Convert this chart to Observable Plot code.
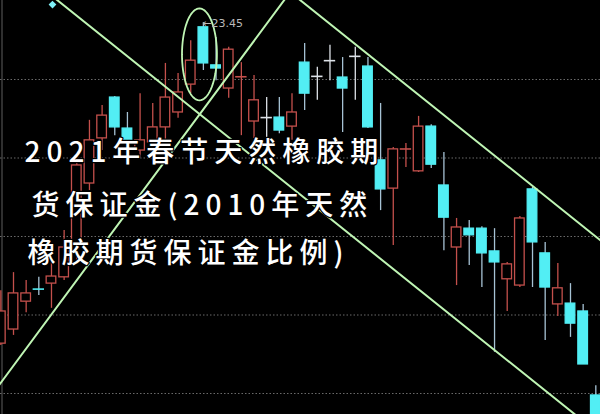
<!DOCTYPE html>
<html>
<head>
<meta charset="utf-8">
<script src="https://cdn.jsdelivr.net/npm/d3@7"></script>
<script src="https://cdn.jsdelivr.net/npm/@observablehq/plot@0.6"></script>
<style>
  html, body { margin: 0; padding: 0; background: #000; }
  #chart svg { display: block; }
</style>
</head>
<body>
<div id="chart"></div>
<script>
// Candle values (price units), one entry per trading day, left to right
const openP  = [15.27,15.63,16.34,16.66,16.80,16.96,17.77,19.35,20.50,21.54,20.75,20.19,20.40,20.78,21.16,21.87,23.33,22.36,21.77,22.07,20.93,21.03,21.03,20.80,22.43,22.08,22.48,22.05,22.59,22.33,19.94,19.22,20.23,19.66,20.80,19.30,17.72,18.20,18.20,17.62,16.91,16.75,19.20,17.57,16.27,16.29,16.09,13.95];
const closeP = [16.09,16.55,16.55,16.64,16.98,17.72,19.81,20.45,21.08,20.78,20.45,20.45,20.78,21.54,21.67,22.48,22.41,22.28,22.76,22.09,21.47,21.03,20.70,21.16,21.64,22.08,22.48,21.77,22.59,20.78,19.20,20.22,20.25,20.80,19.83,18.48,18.23,18.03,17.57,17.34,17.29,18.46,17.85,16.70,16.68,15.78,14.74,13.06];
const highP  = [16.62,17.08,16.88,16.96,17.39,18.15,20.06,20.96,21.34,21.57,21.16,21.64,21.39,22.41,22.15,22.99,23.45,23.07,22.82,22.43,22.10,21.54,21.54,21.64,22.92,22.31,22.87,22.56,22.82,22.56,21.39,20.27,20.37,21.06,20.85,20.14,18.46,18.41,18.25,18.20,17.34,18.51,19.25,17.85,17.31,16.80,16.27,14.20];
const lowP   = [15.22,15.48,16.06,16.50,16.17,16.88,17.34,19.17,20.19,20.57,20.27,19.99,20.19,20.45,21.01,21.64,22.23,21.97,21.52,20.57,20.50,20.52,20.62,20.45,21.21,21.47,21.97,20.65,21.47,20.75,18.66,17.77,19.76,19.63,19.73,17.64,16.75,17.26,16.70,15.05,16.09,16.70,16.70,15.35,15.96,15.43,14.74,13.06];

// Horizontal dotted grid levels
const gridLevels = [22, 20, 18, 16, 14];

// Hand-drawn trend lines: [dayIndex, price] endpoints
const trendA = [[4, 24.14], [46, 13.30]];
const trendB = [[-1, 13.84], [23, 24.29]];
const trendC = [[23, 24.19], [48, 17.74]];

// Highlight ellipse around the peak (centre day, centre price, radii)
const ellipseCenter = [15.69, 22.64];
const ellipseRadii = [1.38, 1.17];

// Peak annotation
const peakLabel = [{i: 16, p: 23.45, t: "←23.45"}];
const marker = [{i: 4.08, p: 23.91}];

// Overlay title lines
const titleLines = ["2021年春节天然橡胶期", "货保证金(2010年天然", "橡胶期货保证金比例)"];

const RED = "#c4504c", CYAN = "#52eef4", CYAN_WICK = "#a6c2d4", FLAT = "#dde2e8", GREEN = "#bff5b4";

const candles = openP.map((o, i) => ({i, o, c: closeP[i], h: highP[i], l: lowP[i]}));
const kind = d => Math.abs(d.c - d.o) < 0.03 ? (d.c > d.o ? "upflat" : d.c < d.o ? "downflat" : "flat") : (d.c > d.o ? "up" : "down");
const bodies = candles.filter(d => !kind(d).includes("flat"));
const flats = candles.filter(d => kind(d).includes("flat"));
const wickColor = d => { const k = kind(d); return k.startsWith("up") ? RED : k.startsWith("down") ? CYAN_WICK : FLAT; };
const tickColor = d => { const k = kind(d); return k === "upflat" ? RED : k === "downflat" ? CYAN : FLAT; };

const toPts = arr => arr.map(([i, p]) => ({i, p}));
const ellipsePts = d3.range(0, 361, 5).map(a => ({
  i: ellipseCenter[0] + ellipseRadii[0] * Math.cos(a * Math.PI / 180),
  p: ellipseCenter[1] + ellipseRadii[1] * Math.sin(a * Math.PI / 180)
}));

const titleFont = "'Noto Sans CJK SC', 'Noto Sans', sans-serif";

const chart = Plot.plot({
  width: 600,
  height: 414,
  margin: 0,
  x: {domain: [-0.027, 47.37], axis: null},
  y: {domain: [13.465, 24.013], axis: null},
  style: {background: "#000", color: "#fff"},
  marks: [
    Plot.frame({anchor: "left", stroke: "#5e5e5e", dx: 1.5}),
    Plot.ruleY(gridLevels, {stroke: "#6a6a6a", strokeDasharray: "1.5,2", strokeWidth: 1}),
    Plot.ruleX(candles, {x: "i", y1: "l", y2: "h", stroke: wickColor, strokeWidth: 1.3, clip: true}),
    Plot.rect(bodies, {
      x1: d => d.i - 0.38, x2: d => d.i + 0.38, y1: "o", y2: "c",
      fill: d => d.c > d.o ? "#000" : CYAN,
      stroke: d => d.c > d.o ? RED : CYAN,
      strokeWidth: 1.3, clip: true
    }),
    Plot.ruleY(flats, {y: "o", x1: d => d.i - 0.45, x2: d => d.i + 0.45, stroke: tickColor, strokeWidth: 1.6}),
    Plot.line(toPts(trendA), {x: "i", y: "p", stroke: GREEN, strokeWidth: 2, clip: true}),
    Plot.line(toPts(trendB), {x: "i", y: "p", stroke: GREEN, strokeWidth: 2, clip: true}),
    Plot.line(toPts(trendC), {x: "i", y: "p", stroke: GREEN, strokeWidth: 2, clip: true}),
    Plot.line(ellipsePts, {x: "i", y: "p", stroke: GREEN, strokeWidth: 1.8, clip: true}),
    Plot.text(peakLabel, {x: "i", y: "p", text: "t", textAnchor: "start", dx: -1, dy: 1, fill: "#b9b9b9", fontSize: 11, fontFamily: "'DejaVu Sans', sans-serif"}),
    Plot.dot(marker, {x: "i", y: "p", symbol: "diamond2", r: 3.5, fill: "#7ff0f6", stroke: null}),
    Plot.text([titleLines[0]], {frameAnchor: "top-left", dx: 24, dy: 153, lineAnchor: "middle", textAnchor: "start", fill: "#fff", stroke: "#000", strokeWidth: 2.5, fontSize: 28, fontFamily: titleFont, fontWeight: 500}),
    Plot.text([titleLines[1]], {frameAnchor: "top-left", dx: 31, dy: 206, lineAnchor: "middle", textAnchor: "start", fill: "#fff", stroke: "#000", strokeWidth: 2.5, fontSize: 28, fontFamily: titleFont, fontWeight: 500}),
    Plot.text([titleLines[2]], {frameAnchor: "top-left", dx: 27, dy: 254, lineAnchor: "middle", textAnchor: "start", fill: "#fff", stroke: "#000", strokeWidth: 2.5, fontSize: 28, fontFamily: titleFont, fontWeight: 500})
  ]
});

chart.querySelectorAll('g[font-size="28"] text').forEach(t => t.setAttribute("letter-spacing", "6"));
document.getElementById("chart").appendChild(chart);
</script>
</body>
</html>
